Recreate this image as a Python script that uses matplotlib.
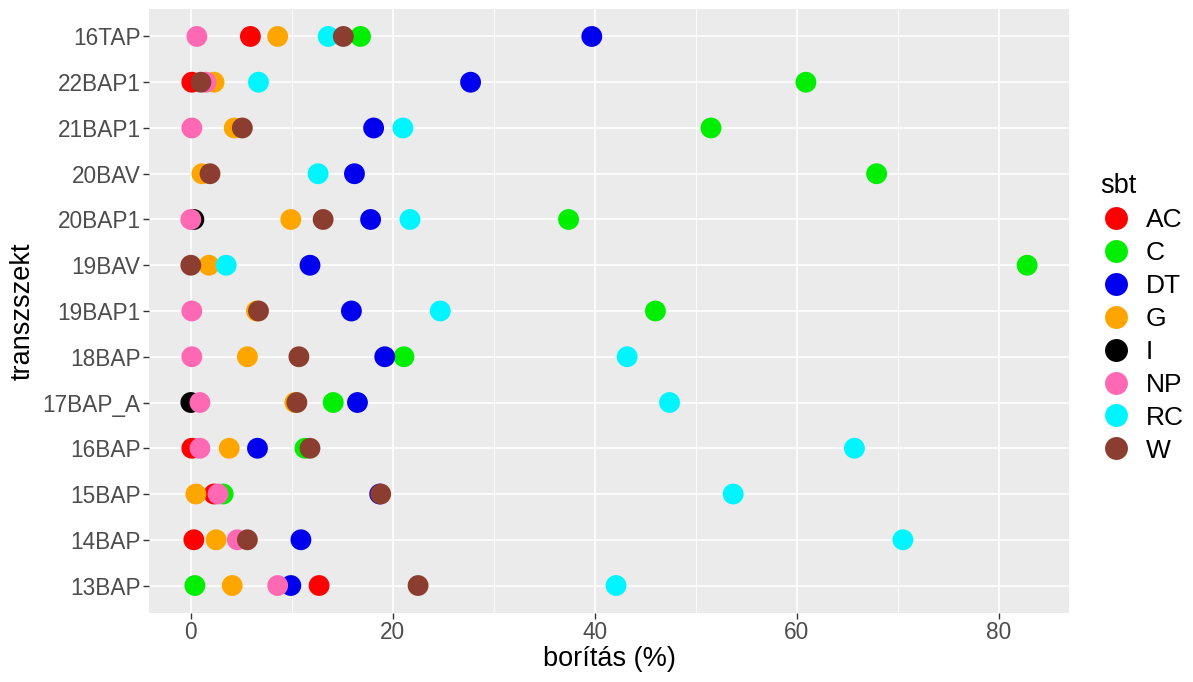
import numpy as np
import matplotlib
matplotlib.use("Agg")
import matplotlib.pyplot as plt
from matplotlib.lines import Line2D

plt.rcParams['font.family'] = ['Liberation Sans', 'DejaVu Sans']

# transzszekt-ek alulról felfelé
transects = ["13BAP", "14BAP", "15BAP", "16BAP", "17BAP_A", "18BAP", "19BAP1",
             "19BAV", "20BAP1", "20BAV", "21BAP1", "22BAP1", "16TAP"]
nan = np.nan

# borítás (%) értékek sbt kategóriánként, transects sorrendben
AC = [12.7, 0.3, 2.3, 0.1, nan, nan, nan, nan, nan, nan, nan, 0.1, 5.9]
C = [0.4, nan, 3.2, 11.3, 14.1, 21.1, 46.0, 82.8, 37.4, 67.9, 51.5, 60.9, 16.8]
DT = [9.9, 10.9, 18.7, 6.6, 16.5, 19.2, 15.9, 11.8, 17.8, 16.2, 18.1, 27.7, 39.7]
G = [4.1, 2.5, 0.5, 3.8, 10.3, 5.6, 6.5, 1.8, 9.9, 1.1, 4.3, 2.3, 8.6]
I = [nan, nan, nan, nan, 0.0, nan, nan, nan, 0.3, nan, nan, nan, nan]
NP = [8.6, 4.6, 2.7, 0.9, 0.9, 0.1, 0.1, nan, 0.0, nan, 0.1, 1.5, 0.6]
RC = [42.1, 70.5, 53.7, 65.7, 47.4, 43.2, 24.7, 3.5, 21.7, 12.6, 21.0, 6.7, 13.6]
W = [22.5, 5.6, 18.8, 11.8, 10.5, 10.7, 6.7, 0.0, 13.1, 1.9, 5.1, 1.0, 15.1]

sbt_names = ["AC", "C", "DT", "G", "I", "NP", "RC", "W"]
sbt_values = [AC, C, DT, G, I, NP, RC, W]
sbt_colors = ["#FF0000", "#00EE00", "#0000EE", "#FFA500", "#000000",
              "#FF69B4", "#00F5FF", "#8B3E2F"]

fig = plt.figure(figsize=(11.93, 6.82), dpi=100)
ax = fig.add_axes([0.1249, 0.1012, 0.7711, 0.8856])
ax.set_facecolor("#EBEBEB")

ypos = np.arange(len(transects))
for name, vals, col in zip(sbt_names, sbt_values, sbt_colors):
    ax.scatter(vals, ypos, s=225, color=col, edgecolors="none", zorder=3, label=name)

# ggplot-szerű rács
for v in [10, 30, 50, 70]:
    ax.axvline(v, color="white", lw=0.6, zorder=1)
for v in [0, 20, 40, 60, 80]:
    ax.axvline(v, color="white", lw=1.2, zorder=1)
for y in ypos:
    ax.axhline(y, color="white", lw=1.2, zorder=1)

ax.set_xlim(-4.14, 86.94)
ax.set_ylim(-0.6, len(transects) - 0.4)
ax.set_xticks([0, 20, 40, 60, 80])
ax.set_yticks(ypos)
ax.set_yticklabels(transects)
for s in ax.spines.values():
    s.set_visible(False)
ax.tick_params(axis="both", colors="#333333", length=4, width=1.0,
               labelsize=16.3, labelcolor="#4D4D4D", pad=2)
ax.set_xlabel("borítás (%)", fontsize=19.5, color="black", labelpad=1)
ax.set_ylabel("transzszekt", fontsize=19.5, color="black", labelpad=5)

handles = [Line2D([0], [0], marker="o", linestyle="none", markersize=16.5,
                  markerfacecolor=c, markeredgecolor="none") for c in sbt_colors]
leg = ax.legend(handles, sbt_names, title="sbt", loc="center left",
                bbox_to_anchor=(1088 / 1193, 0.534), bbox_transform=fig.transFigure,
                frameon=False, fontsize=19, title_fontsize=19.5,
                labelspacing=0.34, handletextpad=0.55, handlelength=1.2,
                borderaxespad=0.0, borderpad=0.45)
leg._legend_box.align = "left"

fig.savefig("out.png", dpi=100)
